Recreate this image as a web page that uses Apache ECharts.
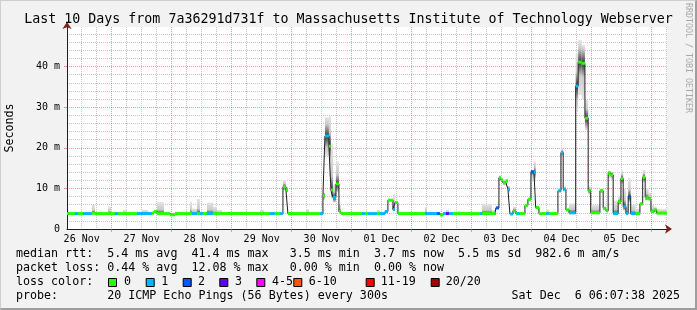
<!DOCTYPE html>
<html><head><meta charset="utf-8">
<script src="https://cdn.jsdelivr.net/npm/echarts@6/dist/echarts.min.js"></script>
<style>
html,body{margin:0;padding:0;background:#f2f2f2}
#c{width:697px;height:310px;position:absolute;left:0;top:0}
#f{position:absolute;left:0;top:0;width:697px;height:310px;box-sizing:border-box;border-style:solid;border-width:1px 2px 2px 1px;border-color:#cfcfcf #9e9e9e #9e9e9e #cfcfcf;pointer-events:none}
</style></head><body><div id="c"></div><div id="f"></div>
<script>
// time unit: hours since 26 Nov 00:00
const START_HOUR = 6.127;   // 26 Nov 06:07:38
const END_HOUR = 246.127;   // 06 Dec 06:07:38
const dayLabels = ['26 Nov','27 Nov','28 Nov','29 Nov','30 Nov','01 Dec','02 Dec','03 Dec','04 Dec','05 Dec'];
const yTicks = [0, 10, 20, 30, 40];
const yLabels = ['0', '10 m', '20 m', '30 m', '40 m'];

const segStart = [
  6.13, 9.3, 10.5, 12.5, 16.1, 17.3, 22.5, 23.7, 25.3, 26.5,
  28.5, 30.1, 34.1, 36.1, 38.5, 40.1, 40.9, 42.1, 44.9, 47.3,
  49.3, 55.3, 56.1, 58.1, 59.3, 60.5, 62.1, 64.5, 66.1, 68.1,
  83.3, 84.9, 87.3, 89.3, 91.3, 92.5, 93.7, 94.5, 101.7, 102.9,
  107.3, 108.5, 109.3, 110.9, 111.7, 112.5, 113.7, 114.9, 115.7, 124.1,
  125.3, 126.5, 130.1, 131.3, 133.3, 134.5, 136.5, 137.3, 138.5, 149.3,
  150.1, 154.1, 155.3, 156.5, 157.7, 158.9, 160.5, 162.5, 163.3, 171.3,
  172.1, 176.1, 177.3, 177.7, 178.9, 179.7, 180.5, 181.7, 182.5, 183.3,
  184.5, 185.7, 186.1, 187.3, 189.3, 190.5, 191.7, 192.9, 193.6, 194.9,
  197.9, 198.9, 202.5, 203.7, 204.6, 205.7, 206.9, 209.6, 210.6, 212.0,
  213.3, 214.6, 215.6, 219.3, 220.6, 221.7, 222.6, 223.6, 224.6, 226.6,
  227.7, 228.6, 229.7, 230.6, 231.6, 233.6, 235.3, 236.4, 237.4, 238.8,
  239.7, 241.0, 242.0
];
const medianMs = [
  3.8, 3.8, 3.8, 3.8, 3.9, 3.8, 3.8, 3.8, 3.8, 3.8,
  3.8, 3.8, 3.8, 3.8, 3.8, 3.9, 4.3, 3.8, 3.8, 3.5,
  3.8, 3.8, 3.8, 3.8, 3.8, 3.8, 3.8, 3.8, 3.8, 3.8,
  3.8, 3.8, 3.8, 3.8, 3.8, 10.4, 9.6, 3.8, 3.8, 3.8,
  3.8, 8.2, 22.9, 20.4, 9.6, 7.8, 11.1, 4.3, 3.8, 3.8,
  3.8, 3.8, 3.8, 3.8, 4.3, 7.1, 4.8, 6.5, 3.8, 3.8,
  3.8, 3.8, 3.45, 3.8, 3.8, 3.8, 3.8, 3.8, 3.8, 3.8,
  3.8, 3.8, 3.8, 5.2, 12.6, 12.1, 11.4, 11.8, 9.8, 3.7,
  4.5, 3.8, 3.8, 3.8, 5.8, 7.3, 14.1, 13.9, 5.3, 3.8,
  3.8, 3.8, 9.4, 18.8, 9.8, 4.7, 4.0, 35.2, 41.1, 40.8,
  27.3, 9.4, 4.0, 9.4, 5.1, 4.5, 13.7, 13.3, 3.8, 6.7,
  12.4, 5.5, 3.8, 8.0, 3.8, 3.8, 6.2, 12.7, 7.7, 7.4,
  4.3, 4.7, 3.9
];
const lossClass = [
  0, 1, 0, 1, 0, 0, 0, 0, 1, 0,
  0, 0, 1, 1, 1, 0, 0, 0, 0, 0,
  0, 0, 1, 0, 1, 0, 1, 0, 0, 0,
  0, 0, 1, 0, 1, 0, 0, 0, 0, 0,
  1, 0, 1, 0, 0, 1, 0, 0, 0, 1,
  0, 1, 0, 1, 1, 0, 1, 0, 0, 1,
  1, 2, 0, 1, 3, 1, 0, 0, 0, 1,
  0, 0, 1, 2, 0, 0, 0, 0, 1, 1,
  0, 0, 1, 0, 0, 0, 2, 1, 0, 0,
  1, 0, 1, 1, 1, 0, 1, 1, 0, 0,
  0, 0, 0, 0, 0, 0, 0, 0, 1, 0,
  0, 1, 1, 2, 1, 0, 0, 0, 0, 0,
  0, 0, 0
];
const smokeLo = [
  3.6, 3.6, 3.6, 3.6, 3.6, 3.6, 3.6, 3.6, 3.6, 3.6,
  3.6, 3.6, 3.6, 3.6, 3.6, 3.6, 3.8, 3.6, 3.6, 3.3,
  3.6, 3.6, 3.6, 3.6, 3.6, 3.6, 3.6, 3.6, 3.6, 3.6,
  3.6, 3.6, 3.6, 3.6, 3.6, 9.5, 9.0, 3.6, 3.6, 3.6,
  3.6, 7.0, 18.0, 13.0, 7.5, 6.5, 9.0, 3.8, 3.6, 3.6,
  3.6, 3.6, 3.6, 3.6, 4.0, 6.8, 4.4, 6.2, 3.6, 3.6,
  3.6, 3.6, 3.3, 3.6, 3.6, 3.6, 3.6, 3.6, 3.6, 3.6,
  3.6, 3.6, 3.6, 4.8, 12.0, 11.6, 10.8, 11.2, 9.0, 3.5,
  4.0, 3.6, 3.6, 3.6, 5.4, 6.8, 11.6, 12.0, 4.8, 3.6,
  3.6, 3.6, 9.0, 18.0, 9.2, 4.3, 3.6, 28.8, 33.0, 32.0,
  24.4, 8.5, 3.6, 8.8, 4.7, 4.1, 12.5, 12.0, 3.6, 6.0,
  11.0, 4.5, 3.6, 6.5, 3.6, 3.6, 5.8, 11.5, 7.0, 7.0,
  3.9, 4.3, 3.6
];
const smokeHi = [
  4.0, 4.0, 4.0, 4.1, 5.9, 4.0, 5.5, 4.0, 4.0, 4.0,
  4.7, 4.0, 4.3, 4.7, 4.3, 4.2, 4.6, 6.6, 4.0, 3.8,
  4.0, 6.7, 5.0, 7.4, 4.2, 4.2, 6.5, 5.5, 4.7, 4.0,
  4.7, 4.0, 4.0, 4.0, 4.0, 12.0, 10.5, 4.0, 4.9, 4.0,
  4.0, 9.0, 27.5, 27.8, 21.0, 11.0, 16.6, 6.0, 4.0, 4.0,
  4.0, 4.0, 4.7, 4.0, 4.6, 7.4, 8.6, 7.0, 4.0, 5.5,
  4.0, 4.0, 3.8, 4.0, 4.7, 4.0, 4.0, 4.5, 4.0, 4.0,
  6.2, 4.7, 4.0, 5.6, 13.2, 12.6, 12.3, 12.4, 10.6, 4.0,
  5.5, 4.0, 4.0, 4.0, 6.2, 7.8, 14.5, 16.8, 5.8, 4.0,
  4.8, 4.0, 9.8, 19.9, 10.4, 5.0, 6.3, 43.3, 46.5, 45.3,
  31.8, 10.5, 5.9, 10.0, 5.5, 4.9, 14.3, 14.1, 7.0, 8.0,
  14.4, 10.0, 6.0, 12.6, 6.0, 5.0, 6.6, 14.5, 10.1, 9.0,
  5.9, 5.5, 4.9
];
const lossColors = ['#26ff00','#00b8ff','#0059ff','#5e00ff','#ff00ff','#ff5500','#ff0000','#a00000'];
const lossLabels = ['0','1','2','3','4-5','6-10','11-19','20/20'];
const statLines = [
  'median rtt:  5.4 ms avg  41.4 ms max   3.5 ms min  3.7 ms now  5.5 ms sd  982.6 m am/s',
  'packet loss: 0.44 % avg  12.08 % max   0.00 % min  0.00 % now',
  'loss color:',
  'probe:       20 ICMP Echo Pings (56 Bytes) every 300s'
];
const stampText = 'Sat Dec  6 06:07:38 2025';
const titleText = 'Last 10 Days from 7a36291d731f to Massachusetts Institute of Technology Webserver';

// ---- derived structures ----
const segEnd = segStart.map((t, i) => i + 1 < segStart.length ? segStart[i + 1] : END_HOUR);
const smokeData = segStart.map((t, i) => [t, segEnd[i], smokeLo[i], smokeHi[i], medianMs[i]]);
const lossData = segStart.map((t, i) => [t, segEnd[i], medianMs[i], lossClass[i]]);
const lineData = segStart.map((t, i) => [t, medianMs[i]]).concat([[END_HOUR, medianMs[medianMs.length - 1]]]);

const noonTicks = dayLabels.map((d, i) => 12 + 24 * i);
const midnightTicks = [];
for (let h = 24; h < END_HOUR; h += 24) midnightTicks.push(h);
const quarterTicks = [];
for (let h = 6; h < END_HOUR; h += 6) if (h > START_HOUR && h % 24 !== 0) quarterTicks.push(h);
const yMinor = [];
for (let v = 2; v < 50; v += 2) if (v % 10 !== 0) yMinor.push(v);

const MONO = 'DejaVu Sans Mono';
const majorGrid = 'rgba(222,79,79,0.55)';
const minorGrid = 'rgba(143,143,143,0.5)';

const chart = echarts.init(document.getElementById('c'), null, {renderer: 'canvas', width: 697, height: 310});

function renderSmoke(params, api) {
  const t0 = api.value(0), t1 = api.value(1), lo = api.value(2), hi = api.value(3), med = api.value(4);
  const pTop = api.coord([t0, hi]);
  const pBot = api.coord([t1, lo]);
  const h = pBot[1] - pTop[1];
  if (h < 0.5) return null;
  const pm = api.coord([t0, med]);
  let f = (pm[1] - pTop[1]) / h;
  f = Math.max(0, Math.min(1, f));
  const w = Math.min(0.3, 14 / h);
  const stops = [{offset: 0, color: '#e4e4e4'}];
  if (f - w > 0) stops.push({offset: f - w, color: '#c8c8c8'});
  stops.push({offset: f, color: '#383838'});
  if (f + w < 1) stops.push({offset: f + w, color: '#c8c8c8'});
  stops.push({offset: 1, color: '#e4e4e4'});
  return {
    type: 'rect',
    shape: {x: pTop[0], y: pTop[1], width: pBot[0] - pTop[0], height: h},
    style: {fill: new echarts.graphic.LinearGradient(0, 0, 0, 1, stops)}
  };
}
function renderLoss(params, api) {
  const t0 = api.value(0), t1 = api.value(1), med = api.value(2), cls = api.value(3);
  const p0 = api.coord([t0, med]);
  const p1 = api.coord([t1, med]);
  return {
    type: 'rect',
    shape: {x: p0[0], y: p0[1] - 1.5, width: p1[0] - p0[0], height: 3},
    style: {fill: lossColors[cls]}
  };
}

const graphics = [];
graphics.push({type: 'text', x: 10, y: 128, rotation: Math.PI / 2,
  style: {text: 'Seconds', font: '11.66px "' + MONO + '"', fill: '#000', align: 'center', verticalAlign: 'middle'}});
graphics.push({type: 'text', x: 688, y: 58, rotation: -Math.PI / 2,
  style: {text: 'RRDTOOL / TOBI OETIKER', font: '8.3px "' + MONO + '"', fill: '#a8a8a8', align: 'center', verticalAlign: 'middle'}});
const lineY = [254, 268, 282, 296];
statLines.forEach((s, i) => {
  graphics.push({type: 'text', x: 16, y: lineY[i],
    style: {text: s, font: '11.66px "' + MONO + '"', fill: '#000', align: 'left', verticalAlign: 'middle'}});
});
graphics.push({type: 'text', x: 680, y: lineY[3],
  style: {text: stampText, font: '11.66px "' + MONO + '"', fill: '#000', align: 'right', verticalAlign: 'middle'}});
const boxX = [108, 145.7, 182.7, 219.3, 256.3, 293.3, 365.7, 430.7];
const boxTextX = [124, 161.3, 198, 235, 272, 308.7, 380.7, 445.7];
lossLabels.forEach((lab, i) => {
  graphics.push({type: 'rect', shape: {x: boxX[i] + 0.5, y: 278.5, width: 8, height: 8},
    style: {fill: lossColors[i], stroke: '#000', lineWidth: 1}});
  graphics.push({type: 'text', x: boxTextX[i], y: lineY[2],
    style: {text: lab, font: '11.66px "' + MONO + '"', fill: '#000', align: 'left', verticalAlign: 'middle'}});
});

const baseX = {type: 'value', min: START_HOUR, max: END_HOUR, position: 'bottom', gridIndex: 0};
const baseY = {type: 'value', min: 0, max: 49.75, position: 'left', gridIndex: 0};

chart.setOption({
  animation: false,
  backgroundColor: '#f2f2f2',
  title: {
    text: titleText, left: 'center', top: 13, padding: 0,
    textStyle: {fontFamily: MONO, fontSize: 13.3, fontWeight: 'normal', color: '#000'}
  },
  grid: {left: 67, top: 27, width: 600, height: 202, show: true, backgroundColor: '#ffffff', borderWidth: 0},
  xAxis: [
    Object.assign({}, baseX, {
      axisLine: {show: true, onZero: false, lineStyle: {color: '#1f1f1f', width: 1}},
      axisTick: {show: true, length: 3, customValues: midnightTicks, lineStyle: {color: majorGrid}},
      axisLabel: {show: true, customValues: noonTicks, margin: 5,
        formatter: v => dayLabels[noonTicks.indexOf(Math.round(v))] || '',
        fontFamily: MONO, fontSize: 10, color: '#000'},
      splitLine: {show: true, lineStyle: {color: majorGrid, width: 1, type: [1, 1]}}
    }),
    Object.assign({}, baseX, {
      axisLine: {show: false, onZero: false},
      axisTick: {show: false, customValues: quarterTicks},
      axisLabel: {show: false},
      splitLine: {show: true, lineStyle: {color: minorGrid, width: 1, type: [1, 1]}}
    }),
    Object.assign({}, baseX, {
      axisLine: {show: true, onZero: false, symbol: ['none', 'arrow'], symbolSize: [7, 7], symbolOffset: [0, 5],
        lineStyle: {color: '#801f1f', width: 0}},
      axisTick: {show: false}, axisLabel: {show: false}, splitLine: {show: false}
    })
  ],
  yAxis: [
    Object.assign({}, baseY, {
      axisLine: {show: true, onZero: false, lineStyle: {color: '#1f1f1f', width: 1}},
      axisTick: {show: true, length: 3, customValues: yTicks.filter(v => v > 0), lineStyle: {color: majorGrid}},
      axisLabel: {show: true, customValues: yTicks, margin: 7,
        formatter: v => yLabels[yTicks.indexOf(Math.round(v))] || '',
        fontFamily: MONO, fontSize: 10, color: '#000'},
      splitLine: {show: true, lineStyle: {color: majorGrid, width: 1, type: [1, 1]}}
    }),
    Object.assign({}, baseY, {
      axisLine: {show: false, onZero: false},
      axisTick: {show: false, customValues: yMinor},
      axisLabel: {show: false},
      splitLine: {show: true, lineStyle: {color: minorGrid, width: 1, type: [1, 1]}}
    }),
    Object.assign({}, baseY, {
      axisLine: {show: true, onZero: false, symbol: ['none', 'arrow'], symbolSize: [7, 7], symbolOffset: [0, 5],
        lineStyle: {color: '#801f1f', width: 0}},
      axisTick: {show: false}, axisLabel: {show: false}, splitLine: {show: false}
    })
  ],
  graphic: graphics,
  series: [
    {type: 'custom', name: 'smoke', xAxisIndex: 0, yAxisIndex: 0, data: smokeData,
      encode: {x: [0, 1], y: [2, 3]}, renderItem: renderSmoke, clip: true, silent: true, z: 2},
    {type: 'line', name: 'median', xAxisIndex: 0, yAxisIndex: 0, data: lineData, step: 'end',
      showSymbol: false, symbol: 'none', lineStyle: {color: '#202020', width: 1}, silent: true, z: 3},
    {type: 'custom', name: 'loss', xAxisIndex: 0, yAxisIndex: 0, data: lossData,
      encode: {x: [0, 1], y: 2}, renderItem: renderLoss, clip: true, silent: true, z: 4}
  ]
});
</script></body></html>
